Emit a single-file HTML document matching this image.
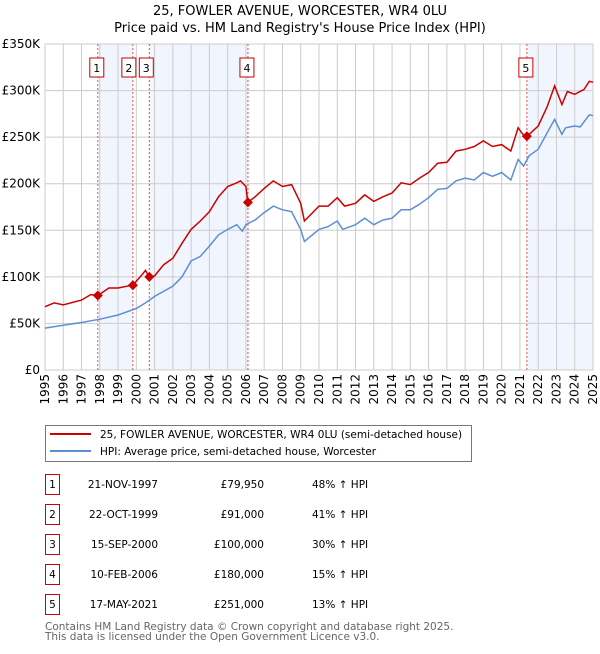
<!DOCTYPE html>
<html><head><meta charset="utf-8">
<style>
body{margin:0;background:#fff;font-family:"DejaVu Sans","Liberation Sans",sans-serif;}
svg text{font-family:"DejaVu Sans","Liberation Sans",sans-serif;}
</style></head>
<body>
<svg id="chart" width="600" height="650" xmlns="http://www.w3.org/2000/svg">
<text x="300" y="15" text-anchor="middle" font-size="13">25, FOWLER AVENUE, WORCESTER, WR4 0LU</text>
<text x="300" y="32" text-anchor="middle" font-size="13">Price paid vs. HM Land Registry's House Price Index (HPI)</text>
<g id="plot"></g>
<g>
<rect x="45.5" y="425.5" width="426" height="36" fill="#fff" stroke="#777"/>
<line x1="50" y1="434" x2="91" y2="434" stroke="#cc0000" stroke-width="2"/>
<text x="100" y="438" font-size="10.5">25, FOWLER AVENUE, WORCESTER, WR4 0LU (semi-detached house)</text>
<line x1="50" y1="451" x2="91" y2="451" stroke="#5b8fd4" stroke-width="2"/>
<text x="100" y="455" font-size="10.5">HPI: Average price, semi-detached house, Worcester</text>
</g>
<g id="table"></g>
<text x="45" y="630" font-size="10.5" fill="#666">Contains HM Land Registry data © Crown copyright and database right 2025.</text>
<text x="45" y="640" font-size="10.5" fill="#666">This data is licensed under the Open Government Licence v3.0.</text>
</svg>
<script>
const hpiYears=[1995,1996,1997,1998,1999,2000,2000.5,2001,2002,2002.5,2003,2003.5,2004,2004.5,2005,2005.5,2005.8,2006,2006.5,2007,2007.5,2008,2008.5,2009,2009.2,2010,2010.5,2011,2011.3,2012,2012.5,2013,2013.5,2014,2014.5,2015,2015.5,2016,2016.5,2017,2017.5,2018,2018.5,2019,2019.5,2020,2020.5,2020.9,2021.2,2021.5,2022,2022.5,2022.9,2023.3,2023.5,2024,2024.3,2024.8,2025];
const hpiValues=[45,48,51,54.5,59,66,72,79,90,100,117,122,133,145,151,156,149,156,161,169,176,172,170,151,138,151,154,160,151,156,163,156,161,163,172,172,178,185,194,195,203,206,204,212,208,212,204,226,219,230,237,255,269,253,260,262,261,274,273];
const priceYears=[1995,1995.5,1996,1997,1997.5,1997.9,1998.5,1999,1999.5,1999.8,2000.3,2000.5,2000.7,2001,2001.5,2002,2002.5,2003,2003.5,2004,2004.5,2005,2005.5,2005.7,2006,2006.1,2006.5,2007,2007.5,2008,2008.5,2009,2009.2,2010,2010.5,2011,2011.4,2012,2012.5,2013,2013.5,2014,2014.5,2015,2015.5,2016,2016.5,2017,2017.5,2018,2018.5,2019,2019.5,2020,2020.5,2020.9,2021.2,2021.4,2022,2022.5,2022.9,2023.3,2023.6,2024,2024.5,2024.8,2025];
const priceValues=[68,72,70,75,81,80,88,88,90,91,102,107,100,101,113,120,136,151,160,170,186,197,201,203,197,180,186,195,203,197,199,179,160,176,176,185,176,179,188,181,186,190,201,199,206,212,222,223,235,237,240,246,240,242,235,260,252,251,262,283,305,285,299,296,301,310,309];
const saleLabels=["1","2","3","4","5"];
const saleYears=[1997.89,1999.81,2000.71,2006.11,2021.38];
const saleValues=[79.95,91,100,180,251];
const saleDates=["21-NOV-1997","22-OCT-1999","15-SEP-2000","10-FEB-2006","17-MAY-2021"];
const salePrices=["£79,950","£91,000","£100,000","£180,000","£251,000"];
const salePcts=["48% ↑ HPI","41% ↑ HPI","30% ↑ HPI","15% ↑ HPI","13% ↑ HPI"];
const yTicks=[0,50,100,150,200,250,300,350];
const yTickLabels=["£0","£50K","£100K","£150K","£200K","£250K","£300K","£350K"];
const xTicks=[1995,1996,1997,1998,1999,2000,2001,2002,2003,2004,2005,2006,2007,2008,2009,2010,2011,2012,2013,2014,2015,2016,2017,2018,2019,2020,2021,2022,2023,2024,2025];

const NS="http://www.w3.org/2000/svg";
const X0=45,X1=593,Y0=370,Y1=44;
const xs=y=>X0+(y-1995)/30*(X1-X0);
const ys=v=>Y0-v/350*(Y0-Y1);
const plot=document.getElementById('plot');
function mk(tag,attrs,parent){const e=document.createElementNS(NS,tag);for(const k in attrs)e.setAttribute(k,attrs[k]);(parent||plot).appendChild(e);return e;}

const shadePairs=[[0,1],[2,3],[4,null]];
shadePairs.forEach(p=>{const a=xs(saleYears[p[0]]);const b=p[1]===null?X1:xs(saleYears[p[1]]);
const r=mk('rect',{x:a,y:Y1,width:b-a,height:Y0-Y1,fill:'#eef3fc',opacity:0.8});

});
yTicks.forEach((v,i)=>{const l=mk('line',{x1:X0,x2:X1,y1:ys(v),y2:ys(v),stroke:'#ccc'});


const t=mk('text',{x:40,y:ys(v)+4,'text-anchor':'end','font-size':12});t.textContent=yTickLabels[i];

});
xTicks.forEach(yr=>{const l=mk('line',{x1:xs(yr),x2:xs(yr),y1:Y1,y2:Y0,stroke:'#ccc'});


const t=mk('text',{x:0,y:0,'text-anchor':'end','font-size':12,transform:`translate(${xs(yr)+4},374) rotate(-90)`});t.textContent=yr;

});
mk('rect',{x:X0,y:Y1,width:X1-X0,height:Y0-Y1,fill:'none',stroke:'#ccc'});
saleYears.forEach((yr,i)=>{const x=xs(yr);
const l=mk('line',{x1:x,x2:x,y1:Y1,y2:Y0,stroke:'#e05050','stroke-dasharray':'2,2','stroke-width':1});


const g=mk('g',{});


mk('rect',{x:x-8+(i===2?-2:0)+(i===1?-3:0),y:58,width:14,height:19,fill:'#fff',stroke:'#c00'},g);
const t=mk('text',{x:x-1+(i===2?-2:0)+(i===1?-3:0),y:72,'text-anchor':'middle','font-size':11},g);t.textContent=saleLabels[i];});
function pathOf(xa,va){return xa.map((x,i)=>(i?'L':'M')+xs(x).toFixed(1)+','+ys(va[i]).toFixed(1)).join(' ');}
const hp=mk('path',{d:pathOf(hpiYears,hpiValues),fill:'none',stroke:'#5b8fd4','stroke-width':1.5});


const pp=mk('path',{d:pathOf(priceYears,priceValues),fill:'none',stroke:'#cc0000','stroke-width':1.5});


saleYears.forEach((yr,i)=>{const x=xs(yr),y=ys(saleValues[i]);
const d=mk('path',{d:`M${x},${y-5}L${x+5},${y}L${x},${y+5}L${x-5},${y}Z`,fill:'#cc0000'});

});
const tb=document.getElementById('table');
saleLabels.forEach((s,i)=>{const cy=483+i*30;
const g=mk('g',{},tb);


mk('rect',{x:45.5,y:cy-8.5,width:14,height:20,fill:'#fff',stroke:'#c00'},g);
const a=mk('text',{x:52.5,y:cy+5,'text-anchor':'middle','font-size':10.5},g);a.textContent=s;
const b=mk('text',{x:158,y:cy+5,'text-anchor':'end','font-size':10.5},g);b.textContent=saleDates[i];
const c=mk('text',{x:264,y:cy+5,'text-anchor':'end','font-size':10.5},g);c.textContent=salePrices[i];
const d=mk('text',{x:312,y:cy+5,'font-size':10.5},g);d.textContent=salePcts[i];});
</script>
</body></html>
